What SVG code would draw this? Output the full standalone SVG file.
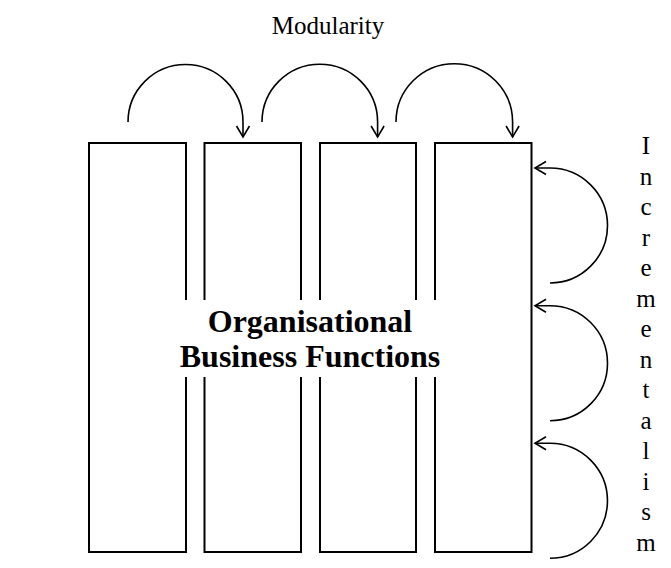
<svg xmlns="http://www.w3.org/2000/svg" width="671" height="568" viewBox="0 0 671 568">
<defs>
<style>
.box{fill:#fff;stroke:#000;stroke-width:2}
.arc{fill:none;stroke:#000;stroke-width:1.6}
.lbl{font-family:"Liberation Serif","Times New Roman",serif;fill:#000}
</style>
<marker id="ah" viewBox="0 0 14 16" refX="12" refY="8" markerWidth="14" markerHeight="16" markerUnits="userSpaceOnUse" orient="auto">
<path d="M1,1.5 L12,8 L1,14.5" fill="none" stroke="#000" stroke-width="1.6"/>
</marker>
</defs>
<rect width="671" height="568" fill="#fff"/>
<g id="col1"><rect class="box" x="89" y="143" width="97" height="409"/></g>
<g id="col2"><rect class="box" x="204.5" y="143" width="96.5" height="409"/></g>
<g id="col3"><rect class="box" x="320" y="143" width="96" height="409"/></g>
<g id="col4"><rect class="box" x="435" y="143" width="96.5" height="409"/></g>
<g id="center-label">
<rect x="182" y="300" width="256" height="77" fill="#fff"/>
<text class="lbl" x="310" y="332" text-anchor="middle" font-size="32" font-weight="bold">Organisational</text>
<text class="lbl" x="310" y="367" text-anchor="middle" font-size="32" font-weight="bold">Business Functions</text>
</g>
<g id="connectors">
<path class="arc" d="M128,122 A57.5,57.5 0 0 1 243,122 L243,137" marker-end="url(#ah)"/>
<path class="arc" d="M262,122 A57.8,57.8 0 0 1 377.6,122 L377.6,137" marker-end="url(#ah)"/>
<path class="arc" d="M396,122 A58.3,58.3 0 0 1 512.6,122 L512.6,137" marker-end="url(#ah)"/>
<path class="arc" d="M550,283 A57.5,57.5 0 0 0 550,168 L535,168" marker-end="url(#ah)"/>
<path class="arc" d="M550,420.7 A57.5,57.5 0 0 0 550,305.7 L535,305.7" marker-end="url(#ah)"/>
<path class="arc" d="M550,558.3 A57.5,57.5 0 0 0 550,443.3 L535,443.3" marker-end="url(#ah)"/>
</g>
<g id="modularity-label">
<text class="lbl" x="328" y="34" text-anchor="middle" font-size="25">Modularity</text>
</g>
<g id="incrementalism-label" class="lbl" font-size="25" text-anchor="middle">
<text x="646" y="154">I</text>
<text x="646" y="184.5">n</text>
<text x="646" y="215">c</text>
<text x="646" y="245.5">r</text>
<text x="646" y="276">e</text>
<text x="646" y="306.5">m</text>
<text x="646" y="337">e</text>
<text x="646" y="367.5">n</text>
<text x="646" y="398">t</text>
<text x="646" y="428.5">a</text>
<text x="646" y="459">l</text>
<text x="646" y="489.5">i</text>
<text x="646" y="520">s</text>
<text x="646" y="550.5">m</text>
</g>
</svg>
